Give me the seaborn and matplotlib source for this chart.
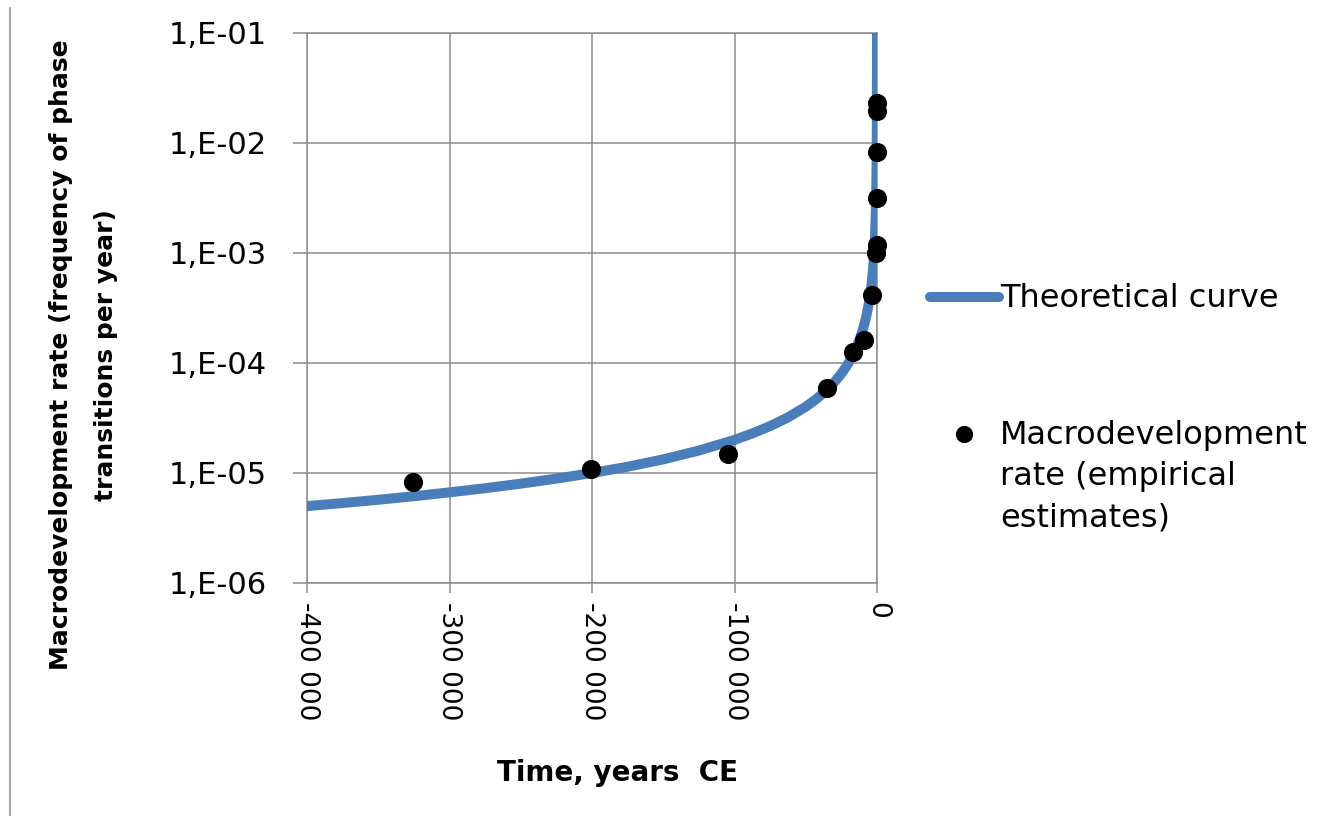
import numpy as np
import pandas as pd
import matplotlib
matplotlib.use("Agg")
import matplotlib.pyplot as plt
from matplotlib.lines import Line2D
from matplotlib.ticker import FixedLocator, FuncFormatter, NullLocator
import seaborn as sns

# Theoretical hyperbolic curve, sampled along its course (year, rate)
curve_year = [-400000, -375000, -350000, -325000, -300000, -275000, -250000,
              -225000, -200000, -175000, -150000, -125000, -100000, -87500,
              -75000, -62500, -50000, -42500, -35000, -30000, -25000, -21000,
              -17500, -14500, -12000, -10000, -8000, -6500, -5000, -4000,
              -3000, -2400, -2000, -1500, -1200, -900, -700, -500, -400,
              -300, -200, -150, -100, -70, -50, -35, -20]
curve_rate = [5.0e-6, 5.33e-6, 5.71e-6, 6.15e-6, 6.67e-6, 7.27e-6, 8.0e-6,
              8.89e-6, 1.0e-5, 1.14e-5, 1.33e-5, 1.6e-5, 2.0e-5, 2.29e-5,
              2.67e-5, 3.2e-5, 4.0e-5, 4.71e-5, 5.71e-5, 6.67e-5, 8.0e-5, 9.52e-5,
              1.14e-4, 1.38e-4, 1.67e-4, 2.0e-4, 2.5e-4, 3.08e-4, 4.0e-4, 5.0e-4,
              6.67e-4, 8.33e-4, 1.0e-3, 1.33e-3, 1.67e-3, 2.22e-3, 2.86e-3, 4.0e-3, 5.0e-3,
              6.67e-3, 1.0e-2, 1.33e-2, 2.0e-2, 2.86e-2, 4.0e-2, 5.71e-2, 1.0e-1]

# Empirical estimates of the macrodevelopment rate
emp_year = [-325600, -200700, -104600, -35100, -16800, -9100, -3500,
            -700, -100, -50, -30, -20, -10]
emp_rate = [8.3e-6, 1.09e-5, 1.49e-5, 5.9e-5, 1.26e-4, 1.62e-4, 4.15e-4,
            1.0e-3, 1.18e-3, 3.16e-3, 8.3e-3, 1.95e-2, 2.3e-2]

x_ticks = [-400000, -300000, -200000, -100000, 0]
y_ticks = [1e-6, 1e-5, 1e-4, 1e-3, 1e-2, 1e-1]

curve_label = "Theoretical curve"
emp_label = "Macrodevelopment\nrate (empirical\nestimates)"

curve_df = pd.DataFrame({"year": curve_year, "rate": curve_rate})
emp_df = pd.DataFrame({"year": emp_year, "rate": emp_rate})

sns.set_style("white")
plt.rcParams["font.family"] = ["DejaVu Sans"]
plt.rcParams["text.color"] = "black"
plt.rcParams["axes.labelcolor"] = "black"
plt.rcParams["xtick.labelcolor"] = "black"
plt.rcParams["ytick.labelcolor"] = "black"

W, H = 1336, 816
fig = plt.figure(figsize=(W / 100, H / 100), dpi=100)
ax = fig.add_axes([307 / W, 1 - 583 / H, 570 / W, 550 / H])

grid_col = "#8c8c8c"

sns.lineplot(data=curve_df, x="year", y="rate", ax=ax, color="#4a7ebb",
             linewidth=7.2, estimator=None, sort=False, label=curve_label,
             solid_capstyle="round", solid_joinstyle="round", zorder=3)
sns.scatterplot(data=emp_df, x="year", y="rate", ax=ax, color="black",
                s=190, linewidth=0, label=emp_label, zorder=4, clip_on=False)

ax.set_yscale("log")
ax.set_xlim(-400000, 0)
ax.set_ylim(1e-6, 1e-1)

ax.xaxis.set_major_locator(FixedLocator(x_ticks))
ax.yaxis.set_major_locator(FixedLocator(y_ticks))
ax.yaxis.set_minor_locator(NullLocator())
ax.xaxis.set_major_formatter(FuncFormatter(lambda v, p: f"{int(round(v)):,}".replace(",", " ")))
ax.yaxis.set_major_formatter(FuncFormatter(lambda v, p: f"1,E-{int(round(-np.log10(v))):02d}"))

ax.grid(True, color=grid_col, linewidth=1.1)
for side, sp in ax.spines.items():
    sp.set_color(grid_col)
    sp.set_linewidth(1.1)
ax.tick_params(axis="y", which="major", direction="out", length=10, width=1.1,
               color=grid_col, pad=19, labelsize=22, left=True, labelcolor="black")
ax.tick_params(axis="x", which="major", direction="out", length=7, width=1.1,
               color=grid_col, pad=7, labelsize=19, bottom=True, labelcolor="black")
for lab in ax.get_xticklabels():
    lab.set_rotation(-90)
    lab.set_ha("center")
    lab.set_va("top")

ax.set_xlabel("Time, years  CE", fontsize=20, fontweight="bold", va="center",
              color="black")
ax.xaxis.set_label_coords(0.544, -0.3455)
ax.set_ylabel("Macrodevelopment rate (frequency of phase\ntransitions per year)",
              fontsize=18, fontweight="bold", va="center", linespacing=2.1,
              color="black")
ax.yaxis.set_label_coords(-0.392, 0.4145)

leg = ax.legend(loc="upper left", bbox_to_anchor=(930 / W, 1 - 283 / H),
                bbox_transform=fig.transFigure, frameon=False, fontsize=23,
                handlelength=2.15, handletextpad=0.05, borderpad=0,
                borderaxespad=0, labelspacing=3.25, handleheight=1.2,
                markerscale=0.9)
for t in leg.get_texts():
    t.set_color("black")
    t.set_linespacing(1.44)
# align each legend marker with the first line of its label
for item in leg._legend_handle_box.get_children()[0].get_children():
    item.align = "top"

# thin vertical rule along the left edge of the figure
fig.add_artist(Line2D([10 / W, 10 / W], [0, 1 - 8 / H], transform=fig.transFigure,
                      color="#a6a6a6", linewidth=1.5))

fig.savefig("out.png", dpi=100)
